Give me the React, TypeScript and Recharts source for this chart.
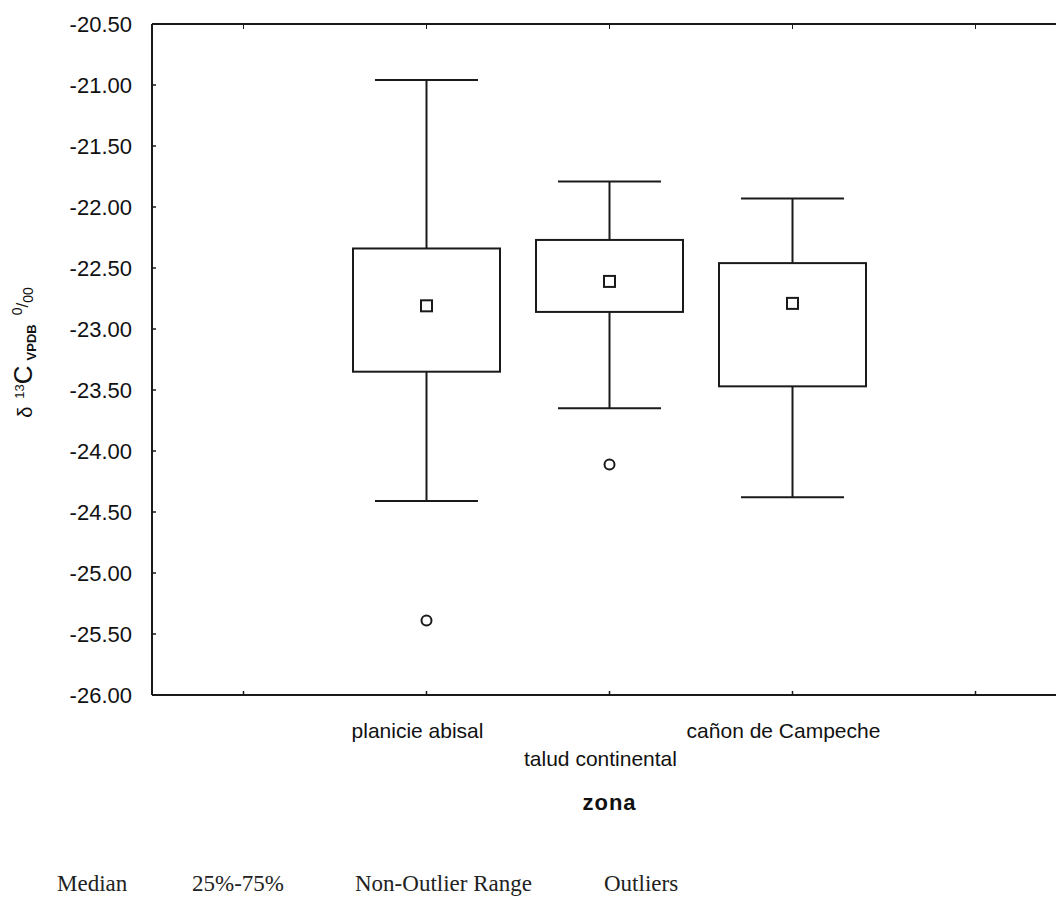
import React from "react";
import { ComposedChart, XAxis, YAxis, Bar, Scatter } from "recharts";

// box plot summary per zone
const zones = ["planicie abisal", "talud continental", "cañon de Campeche"];
const whiskerHigh = [-20.96, -21.79, -21.93];
const boxTop = [-22.34, -22.27, -22.46];
const medians = [-22.81, -22.61, -22.79];
const boxBottom = [-23.35, -22.86, -23.47];
const whiskerLow = [-24.41, -23.65, -24.38];
const outliers: (number | null)[] = [-25.39, -24.11, null];

const yTicks = [-26, -25.5, -25, -24.5, -24, -23.5, -23, -22.5, -22, -21.5, -21, -20.5];
const legendLabels = ["Median", "25%-75%", "Non-Outlier Range", "Outliers"];

// empty slots either side, the original axis has a tick there too
const rows = [
  { zone: "pad-left" },
  ...zones.map((zone, i) => ({
    zone,
    hi: whiskerHigh[i],
    q3: boxTop[i],
    median: medians[i],
    q1: boxBottom[i],
    lo: whiskerLow[i],
    outlier: outliers[i],
  })),
  { zone: "pad-right" },
];

const INK = "#1a1a1a";
const SANS = "'Liberation Sans', Arial, sans-serif";
const SERIF = "'Liberation Serif', 'Times New Roman', serif";

// layout
const CHART_W = 1075;
const CHART_H = 897;
const MARGIN = { top: 24, right: 8, left: 0, bottom: 0 };
const Y_AXIS_W = 152;
const X_AXIS_H = 202;
const PLOT_W = CHART_W - MARGIN.left - MARGIN.right - Y_AXIS_W;
const PLOT_H = CHART_H - MARGIN.top - MARGIN.bottom - X_AXIS_H;

const whiskerRange = (d: any) => (d.lo == null ? null : [d.lo, d.hi]);
const boxRange = (d: any) => (d.q1 == null ? null : [d.q1, d.q3]);

const Whisker = (props: any) => {
  const { x, y, width, height, payload } = props;
  if (!payload || payload.lo == null) return <g />;
  const top = Math.min(y, y + height);
  const bottom = Math.max(y, y + height);
  const cx = x + width / 2;
  return (
    <g stroke={INK} strokeWidth={2}>
      <line x1={cx} y1={top} x2={cx} y2={bottom} />
      <line x1={x} y1={top} x2={x + width} y2={top} />
      <line x1={x} y1={bottom} x2={x + width} y2={bottom} />
    </g>
  );
};

const Box = (props: any) => {
  const { x, y, width, height, payload } = props;
  if (!payload || payload.q1 == null) return <g />;
  return (
    <rect
      x={x}
      y={Math.min(y, y + height)}
      width={width}
      height={Math.abs(height)}
      fill="#fff"
      stroke={INK}
      strokeWidth={2}
    />
  );
};

const MedianMark = (props: any) => {
  const { cx, cy, payload } = props;
  if (!payload || payload.median == null || cy == null) return <g />;
  return <rect x={cx - 5.5} y={cy - 5.5} width={11} height={11} fill="#fff" stroke={INK} strokeWidth={2} />;
};

const OutlierMark = (props: any) => {
  const { cx, cy, payload } = props;
  if (!payload || payload.outlier == null || cy == null) return <g />;
  return <circle cx={cx} cy={cy} r={5} fill="#fff" stroke={INK} strokeWidth={2} />;
};

const YTick = (props: any) => {
  const { x, y, payload } = props;
  return (
    <g>
      <line x1={x} y1={y} x2={x + 4} y2={y} stroke={INK} strokeWidth={1.5} />
      <text x={x - 20} y={y} textAnchor="end" dominantBaseline="central" fontSize={22} fontFamily={SANS} fill="#111">
        {Number(payload.value).toFixed(2)}
      </text>
    </g>
  );
};

const ZoneTick = (props: any) => {
  const { x, y, payload, index } = props;
  const label = zones.includes(payload.value) ? payload.value : "";
  const dy = index % 2 === 0 ? 63 : 35;
  return (
    <g>
      <line x1={x} y1={y} x2={x} y2={y - 4} stroke={INK} strokeWidth={1.5} />
      {label && (
        <text x={x - 9} y={y + dy} textAnchor="middle" dominantBaseline="central" fontSize={21} fontFamily={SANS} fill="#111">
          {label}
        </text>
      )}
    </g>
  );
};

const ZonaTitle = (props: any) => {
  const vb = props.viewBox || { x: Y_AXIS_W, y: MARGIN.top + PLOT_H, width: PLOT_W, height: X_AXIS_H };
  return (
    <text
      x={vb.x + vb.width / 2}
      y={vb.y + 107}
      textAnchor="middle"
      dominantBaseline="central"
      fontSize={22}
      fontWeight="bold"
      letterSpacing={1}
      fontFamily={SANS}
      fill="#111"
    >
      zona
    </text>
  );
};

const YTitle = (props: any) => {
  const vb = props.viewBox || { x: 0, y: MARGIN.top, width: Y_AXIS_W, height: PLOT_H };
  const cy = vb.y + vb.height / 2 - 7;
  return (
    <text transform={`translate(32, ${cy}) rotate(-90)`} textAnchor="middle" fontFamily={SANS} fill="#111">
      <tspan fontSize={20}>δ</tspan>
      <tspan fontSize={13} dx={8} dy={-8}>13</tspan>
      <tspan fontSize={26} dy={8}>C</tspan>
      <tspan fontSize={13} fontWeight="bold" dx={5} dy={4}>VPDB</tspan>
      <tspan fontSize={14} dx={9} dy={-14}>0</tspan>
      <tspan fontSize={17} dy={6}>/</tspan>
      <tspan fontSize={14} dy={5}>00</tspan>
    </text>
  );
};

// top edge of the frame, with the same five slot ticks as the bottom axis
const slotCount = rows.length;
const TopFrame = () => (
  <div style={{ position: "absolute", left: Y_AXIS_W, top: MARGIN.top - 1, width: PLOT_W, height: 8, zIndex: 5, pointerEvents: "none" }}>
    <div style={{ position: "absolute", left: 0, top: 0, width: "100%", height: 2, background: INK }} />
    {rows.map((r, i) => (
      <div
        key={r.zone}
        style={{ position: "absolute", left: ((i + 0.5) * PLOT_W) / slotCount - 0.75, top: 0, width: 1.5, height: 6, background: INK }}
      />
    ))}
  </div>
);

const App: React.FC = () => {
  return (
    <div style={{ position: "absolute", left: 0, top: 0, width: 1056, height: 897, overflow: "hidden", background: "#fff" }}>
      <ComposedChart width={CHART_W} height={CHART_H} data={rows} margin={MARGIN}>
        <XAxis
          xAxisId="main"
          dataKey="zone"
          type="category"
          interval={0}
          height={X_AXIS_H}
          tickSize={0}
          tickMargin={0}
          tick={<ZoneTick />}
          axisLine={{ stroke: INK, strokeWidth: 2 }}
          label={<ZonaTitle />}
        />
        <XAxis
          xAxisId="top"
          orientation="top"
          mirror
          dataKey="zone"
          type="category"
          interval={0}
          tick={false}
          tickLine={false}
          axisLine={{ stroke: INK, strokeWidth: 2 }}
        />
        <YAxis
          type="number"
          domain={[-26, -20.5]}
          ticks={yTicks}
          allowDataOverflow
          width={Y_AXIS_W}
          tickSize={0}
          tickMargin={0}
          tick={<YTick />}
          axisLine={{ stroke: INK, strokeWidth: 2 }}
          label={<YTitle />}
        />
        <Bar xAxisId="main" dataKey={whiskerRange} barSize={103} shape={<Whisker />} isAnimationActive={false} />
        <Bar xAxisId="top" dataKey={boxRange} barSize={147} shape={<Box />} isAnimationActive={false} />
        <Scatter xAxisId="main" dataKey="median" shape={<MedianMark />} isAnimationActive={false} />
        <Scatter xAxisId="main" dataKey="outlier" shape={<OutlierMark />} isAnimationActive={false} />
      </ComposedChart>
      <TopFrame />
      {legendLabels.map((label, i) => (
        <div
          key={label}
          style={{
            position: "absolute",
            left: [57, 192, 355, 604][i],
            top: 873,
            fontFamily: SERIF,
            fontSize: 23,
            lineHeight: "22px",
            color: "#222",
            whiteSpace: "nowrap",
          }}
        >
          {label}
        </div>
      ))}
    </div>
  );
};

export default App;
